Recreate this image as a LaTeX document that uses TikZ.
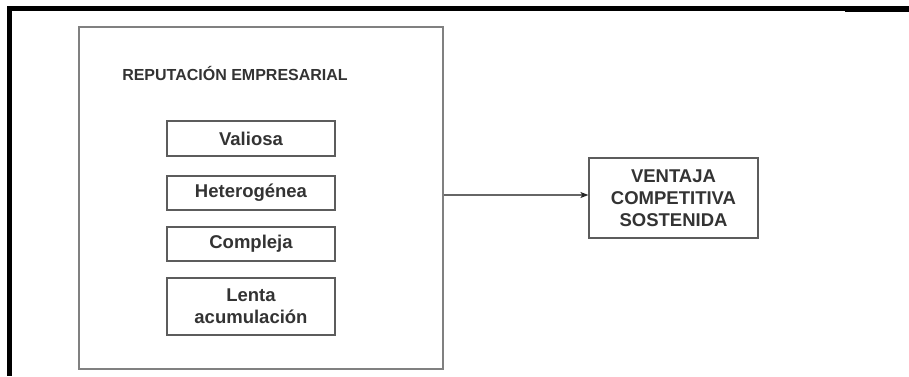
\documentclass[tikz,border=0pt]{standalone}
\usepackage{fontspec}
\setmainfont{Liberation Sans}
\usetikzlibrary{arrows.meta}
\definecolor{inktext}{HTML}{333333}
\definecolor{boxline}{HTML}{5C5C5C}
\definecolor{frameline}{HTML}{808080}
\definecolor{linkline}{HTML}{666666}
\tikzset{
  itembox/.style={draw=boxline, line width=1.2pt, minimum width=168pt,
    inner sep=0pt, align=center, text=inktext,
    font=\fontsize{18.5}{22}\selectfont\bfseries},
  resultbox/.style={itembox, minimum width=169pt, minimum height=80pt},
  groupbox/.style={draw=frameline, line width=1.2pt, minimum width=364pt,
    minimum height=342pt, inner sep=0pt},
  heading/.style={text=inktext, inner sep=0pt,
    font=\fontsize{16}{19}\selectfont\bfseries},
  link/.style={draw=linkline, line width=1.3pt,
    -{Stealth[length=8pt,width=6pt,inset=2pt,color=black!85]}},
  rule/.style={fill=black, draw=none}
}
\begin{document}
\begin{tikzpicture}[x=1pt,y=-1pt]
  \useasboundingbox (0,0) rectangle (909,376);
  % heavy black rules along the top and the left side
  \fill[rule] (7,6) rectangle (909,11);
  \fill[rule] (845,6) rectangle (909,12);
  \fill[rule] (7,6) rectangle (12,376);

  % group of reputation attributes
  \node[groupbox] (outer) at (261,198) {};
  \node[heading] (title) at (235,73) {REPUTACIÓN EMPRESARIAL};
  \node[itembox, minimum height=35pt] (valiosa) at (251,138.5) {Valiosa};
  \node[itembox, minimum height=34pt] (hetero) at (251,193) {Heterogénea};
  \node[itembox, minimum height=34pt] (compleja) at (251,244) {Compleja};
  \node[itembox, minimum height=57pt] (lenta) at (251,306.5) {Lenta\\acumulación};

  % outcome
  \node[resultbox] (vent) at (673.5,198) {VENTAJA\\COMPETITIVA\\SOSTENIDA};

  \draw[link] ([yshift=3pt]outer.east |- vent.west) -- ([yshift=3pt]vent.west);
\end{tikzpicture}
\end{document}
